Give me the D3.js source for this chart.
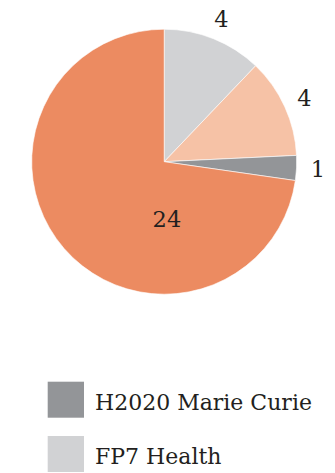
<!DOCTYPE html>
<html>
<head>
<meta charset="utf-8">
<script src="https://cdn.jsdelivr.net/npm/d3@7"></script>
<style>
  html, body { margin: 0; padding: 0; background: #fff; }
  svg { display: block; }
  text { font-family: "DejaVu Serif", serif; fill: #231f20; }
</style>
</head>
<body>
<svg id="chart" width="335" height="473"></svg>
<script>
// Slice order, clockwise from 12 o'clock
const sliceNames  = ["FP7 Health", "FP7 Marie Curie", "H2020 Marie Curie", "H2020 Health"];
const sliceValues = [4, 4, 1, 24];
const sliceColors = ["#d1d2d4", "#f6c2a6", "#939598", "#ec8b61"];

// Legend order
const legendNames = ["H2020 Marie Curie", "FP7 Health", "FP7 Marie Curie", "H2020 Health"];

const width = 335, height = 473;
const svg = d3.select("#chart");
const cx = 164.2, cy = 161.7, radius = 132.5;

const color = d3.scaleOrdinal().domain(sliceNames).range(sliceColors);

const pie = d3.pie().sort(null).value(d => d.value);
const arcs = pie(sliceNames.map((name, i) => ({ name, value: sliceValues[i] })));
const arc = d3.arc().innerRadius(0).outerRadius(radius);

const g = svg.append("g").attr("transform", `translate(${cx},${cy})`);

g.selectAll("path.slice")
  .data(arcs)
  .join("path")
  .attr("class", "slice")
  .attr("d", arc)
  .attr("fill", d => color(d.data.name))
  .attr("stroke", "#fff")
  .attr("stroke-width", 0.6);

// Small slices are labelled outside the rim, the large one inside
const outerLabelArc = d3.arc().innerRadius(154).outerRadius(154);
const bigShare = 0.5;
const total = d3.sum(sliceValues);

g.selectAll("text.value")
  .data(arcs)
  .join("text")
  .attr("class", "value")
  .attr("text-anchor", "middle")
  .attr("dominant-baseline", "central")
  .attr("font-size", 22.5)
  .attr("transform", d => {
    if (d.value / total > bigShare) {
      const r = radius * 0.43;
      return `translate(${r * Math.sin(Math.PI * 0.985)},${-r * Math.cos(Math.PI * 0.985)})`;
    }
    const [x, y] = outerLabelArc.centroid(d);
    return `translate(${x},${y})`;
  })
  .text(d => d.value);

// Legend: rows continue below the visible area; only rows that start inside it are drawn
const legendTop = 381.7, rowStep = 54.3;
const legendRows = legendNames
  .map((name, i) => ({ name, y: legendTop + i * rowStep }))
  .filter(d => d.y + 36 <= height + 40 && d.y < height - 30);

const items = svg.append("g")
  .attr("transform", "translate(47.7,0)")
  .selectAll("g.item")
  .data(legendRows)
  .join("g")
  .attr("class", "item")
  .attr("transform", d => `translate(0,${d.y})`);

items.append("rect")
  .attr("width", 36.3)
  .attr("height", 36)
  .attr("fill", d => color(d.name));

items.append("text")
  .attr("x", 47.3)
  .attr("y", 28.3)
  .attr("font-size", 22)
  .text(d => d.name);
</script>
</body>
</html>
